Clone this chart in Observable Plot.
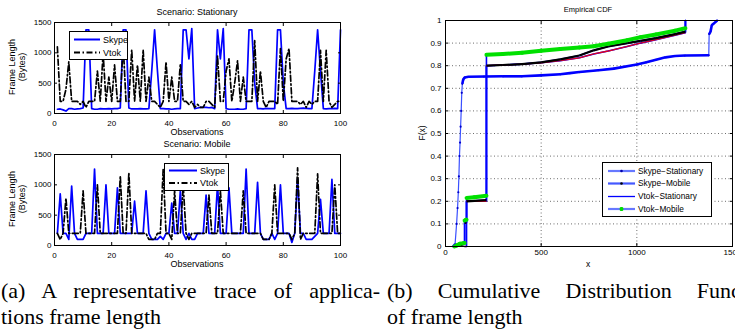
<!DOCTYPE html>
<html><head><meta charset="utf-8">
<script src="https://cdn.jsdelivr.net/npm/d3@7"></script>
<script src="https://cdn.jsdelivr.net/npm/@observablehq/plot@0.6"></script>
<style>
html,body{margin:0;padding:0;background:#fff;overflow:hidden;}
#root{position:relative;width:735px;height:333px;overflow:hidden;font-family:"Liberation Sans",Arial,sans-serif;background:#fff;}
.lbl{position:absolute;white-space:nowrap;color:#000;line-height:1;}
.cap{position:absolute;font-family:"Liberation Serif","Times New Roman",serif;font-size:22px;line-height:26px;color:#000;text-align:justify;text-align-last:justify;white-space:normal;}
.cap.last{text-align:left;text-align-last:left;white-space:nowrap;}
</style></head>
<body><div id="root"></div>
<script>
// ---------- data: frame-length traces (observations 1..100) ----------
const skypeStationary = [70,75,60,40,80,80,70,75,80,90, 1380,1380,80,70,70,80,75,75,80,75,
  80,80,90,1380,1380,90,75,75,75,80, 75,75,80,700,1380,700,80,80,75,75,
  70,75,80,80,1380,1380,900,1400,80,90, 100,100,100,95,100,80,1380,900,1400,80,
  70,70,70,75,70,70,80,1380,1380,500, 80,80,75,85,80,80,80,1380,1380,500,
  80,80,85,80,80,85,90,85,80,80, 700,1380,700,80,75,80,80,85,80,1380];
const vtokStationary = [1100,200,200,400,850,200,200,200,150,200, 100,200,200,200,700,200,1000,200,600,200,
  800,200,200,1150,200,200,1050,200,800,200, 1050,200,600,200,200,150,100,200,850,200,
  600,200,200,820,200,200,150,200,100,150, 100,100,200,200,150,100,950,200,200,700,
  900,200,500,870,200,600,200,200,200,1200, 200,700,200,100,200,200,200,150,1070,200,
  900,1070,200,200,200,150,200,100,200,150, 200,200,1040,200,1040,200,100,150,200,200];
const skypeMobile = [200,850,200,200,100,980,200,100,100,100, 200,200,200,1260,200,200,200,1000,200,200,
  200,950,200,200,200,200,200,730,200,200, 200,900,200,100,100,100,150,100,200,200,
  700,200,200,900,200,100,200,100,100,200, 200,200,830,200,200,200,1000,200,200,200,
  950,200,200,200,200,200,1260,200,200,200, 1040,200,100,100,100,200,100,200,1000,200,
  200,200,50,200,1100,200,200,100,100,100, 150,200,760,200,200,200,1090,200,200,200];
const vtokMobile = [200,100,200,780,200,200,200,200,200,900, 200,200,200,200,1000,200,200,200,200,200,
  200,200,1150,200,200,1200,200,200,200,200, 200,200,100,100,100,200,200,1260,200,200,
  100,900,200,200,1000,200,100,200,200,200, 200,200,200,830,200,200,200,900,200,200,
  200,200,200,200,200,900,200,200,200,200, 200,200,100,100,100,200,1000,200,200,200,
  200,200,100,200,1280,100,200,200,200,200, 200,1180,200,200,200,200,200,1000,200,200];
const traceXTicks = [0,20,40,60,80,100];
const traceYTicks = [0,500,1000,1500];

// ---------- data: empirical CDF knots (x = frame length, F = cumulative) ----------
const ssX = [40,50,58,63,67,70,73,76,79,82,85,88,92,100,120,200,300,400,500,600,650,700,800,880,1000,1050,1100,1150,1200,1250,1376,1378,1385,1392,1400,1420];
const ssF = [0,0.01,0.1,0.17,0.24,0.31,0.4,0.46,0.53,0.6,0.68,0.72,0.738,0.748,0.751,0.752,0.753,0.753,0.757,0.762,0.767,0.772,0.78,0.787,0.805,0.815,0.826,0.837,0.843,0.845,0.846,0.94,0.95,0.98,0.985,1.0];
const smX = [50,95,100,100,108,110,110,214,214,300,400,500,600,700,775,850,950,1019,1100,1200,1254,1254];
const smF = [0,0.01,0.01,0.105,0.105,0.105,0.2,0.205,0.80,0.803,0.807,0.815,0.828,0.845,0.868,0.885,0.9,0.91,0.922,0.94,0.951,1.0];
const vsX = [100,110,110,214,214,300,400,500,600,700,775,850,950,1019,1100,1200,1254,1254];
const vsF = [0,0,0.2,0.2,0.80,0.803,0.807,0.813,0.822,0.835,0.852,0.865,0.885,0.9,0.915,0.935,0.946,1.0];
const vmX = [47,60,75,95,100,100,107,110,110,150,214,214,300,400,500,600,700,775,850,950,1019,1100,1200,1254,1254];
const vmF = [0,0.005,0.012,0.015,0.015,0.115,0.118,0.118,0.215,0.218,0.225,0.848,0.852,0.857,0.866,0.874,0.881,0.886,0.897,0.913,0.926,0.938,0.955,0.966,1.0];
const cdfXTicks = [0,500,1000,1500];
const cdfYTicks = [0,0.1,0.2,0.3,0.4,0.5,0.6,0.7,0.8,0.9,1];

// ---------- helpers ----------
const root = document.getElementById("root");
const FONT = '"Liberation Sans", Arial, Helvetica, sans-serif';
function place(el, left, top) { el.style.position = "absolute"; el.style.left = left + "px"; el.style.top = top + "px"; root.appendChild(el); return el; }
function label(text, cx, cy, size, rotate) {
  const d = document.createElement("div");
  d.className = "lbl"; d.textContent = text; d.style.fontSize = size + "px";
  d.style.left = cx + "px"; d.style.top = cy + "px";
  d.style.transform = "translate(-50%,-50%)" + (rotate ? " rotate(-90deg)" : "");
  root.appendChild(d);
}
const toSeries = arr => arr.map((v, i) => ({obs: i + 1, v}));
const toKnots = (xs, Fs) => xs.map((x, i) => ({x, F: Fs[i]}));
function flatSegs(xs, Fs) {
  const out = [];
  for (let i = 1; i < xs.length; i++) {
    const dx = xs[i] - xs[i - 1];
    if (dx > 0 && (Fs[i] - Fs[i - 1]) / dx < 0.006) out.push({x1: xs[i - 1], y1: Fs[i - 1], x2: xs[i], y2: Fs[i]});
  }
  return out;
}
const inwardAxes = (xt, yt, xPad, yPad, xFmt, yFmt) => [
  Plot.axisX({anchor: "bottom", ticks: xt, tickSize: -3, tickPadding: xPad, label: null, tickFormat: xFmt}),
  Plot.axisX({anchor: "top", ticks: xt, tickSize: -3, tickFormat: () => "", label: null}),
  Plot.axisY({anchor: "left", ticks: yt, tickSize: -3, tickPadding: yPad, label: null, tickFormat: yFmt}),
  Plot.axisY({anchor: "right", ticks: yt, tickSize: -3, tickFormat: () => "", label: null}),
  Plot.frame({stroke: "#000", strokeWidth: 1})
];

// ---------- left: traces ----------
function tracePlot(skype, vtok) {
  return Plot.plot({
    width: 352, height: 140,
    marginLeft: 54, marginRight: 12, marginTop: 22, marginBottom: 27,
    style: {fontFamily: FONT, fontSize: "8px", background: "transparent", overflow: "visible", color: "#000"},
    x: {domain: [0, 100]},
    y: {domain: [0, 1500]},
    marks: [
      Plot.line(toSeries(skype), {x: "obs", y: "v", stroke: "#0000ff", strokeWidth: 1.7}),
      Plot.line(toSeries(vtok), {x: "obs", y: "v", stroke: "#000", strokeWidth: 1.7, strokeDasharray: "6,2.5,1.5,2.5"}),
      ...inwardAxes(traceXTicks, traceYTicks, 10, 6, d => String(d), d => String(d))
    ]
  });
}
place(tracePlot(skypeStationary, vtokStationary), 0, 0);
place(tracePlot(skypeMobile, vtokMobile), 0, 132);

// ---------- right: CDF ----------
const cdf = Plot.plot({
  width: 355, height: 276,
  marginLeft: 65, marginRight: 3, marginTop: 20, marginBottom: 30,
  style: {fontFamily: FONT, fontSize: "8px", background: "transparent", overflow: "visible", color: "#000"},
  x: {domain: [0, 1500]},
  y: {domain: [0, 1]},
  marks: [
    Plot.gridX(cdfXTicks, {stroke: "#333", strokeOpacity: 0.9, strokeDasharray: "1,2.5", strokeWidth: 0.8}),
    Plot.gridY(cdfYTicks, {stroke: "#333", strokeOpacity: 0.9, strokeDasharray: "1,2.5", strokeWidth: 0.8}),
    Plot.line(toKnots(ssX, ssF), {x: "x", y: "F", stroke: "#3a50ff", strokeWidth: 1.2}),
    Plot.dot(toKnots(ssX, ssF), {x: "x", y: "F", r: 1.1, fill: "#0000cc"}),
    Plot.link(flatSegs(ssX, ssF), {x1: "x1", y1: "y1", x2: "x2", y2: "y2", stroke: "#0000ff", strokeWidth: 2.6}),
    Plot.line(toKnots(vsX, vsF), {x: "x", y: "F", stroke: "#0000ff", strokeWidth: 1.6}),
    Plot.line(toKnots(smX, smF), {x: "x", y: "F", stroke: "#0000ff", strokeWidth: 1.6}),
    Plot.line(toKnots(vmX, vmF), {x: "x", y: "F", stroke: "#0000ff", strokeWidth: 1.6}),
    Plot.link(flatSegs(vsX, vsF), {x1: "x1", y1: "y1", x2: "x2", y2: "y2", stroke: "#e00020", strokeWidth: 1.3}),
    Plot.link(flatSegs(smX, smF), {x1: "x1", y1: "y1", x2: "x2", y2: "y2", stroke: "#000", strokeWidth: 2.2}),
    Plot.link(flatSegs(vmX, vmF), {x1: "x1", y1: "y1", x2: "x2", y2: "y2", stroke: "#00e000", strokeWidth: 4, strokeLinecap: "round"}),
    ...inwardAxes(cdfXTicks, cdfYTicks, 6, 7, d => String(d), d => String(d))
  ]
});
place(cdf, 380, 0);

// ---------- text labels ----------
label("Scenario: Stationary", 197, 12, 9);
label("Observations", 197, 132, 9);
label("Frame Length", 12, 67, 9, true);
label("(Bytes)", 21.5, 67, 9, true);
label("Scenario: Mobile", 197, 144, 9);
label("Observations", 197, 264, 9);
label("Frame Length", 12, 199, 9, true);
label("(Bytes)", 21.5, 199, 9, true);
label("Empirical CDF", 588, 10, 7.5);
label("F(x)", 422, 133, 8.5, true);
label("x", 588, 264, 8.5);

// ---------- legends ----------
function legendBox(left, top, w, h, rows) {
  const ns = "http://www.w3.org/2000/svg";
  const svg = document.createElementNS(ns, "svg");
  svg.setAttribute("width", w); svg.setAttribute("height", h);
  let html = `<rect x="0.5" y="0.5" width="${w - 1}" height="${h - 1}" fill="#fff" stroke="#000" stroke-width="1"/>`;
  rows.forEach(r => { html += r; });
  svg.innerHTML = html;
  svg.style.fontFamily = FONT;
  place(svg, left, top);
}
const dashDot = "6,2.5,1.5,2.5";
legendBox(69, 31, 59, 29, [
  `<line x1="5" x2="31" y1="8.5" y2="8.5" stroke="#0000ff" stroke-width="2"/>`,
  `<text x="34" y="8.5" dy="0.35em" font-size="9">Skype</text>`,
  `<line x1="5" x2="31" y1="21.5" y2="21.5" stroke="#000" stroke-width="1.8" stroke-dasharray="${dashDot}"/>`,
  `<text x="34" y="21.5" dy="0.35em" font-size="9">Vtok</text>`
]);
legendBox(164, 163, 65, 28, [
  `<line x1="5" x2="33" y1="7.5" y2="7.5" stroke="#0000ff" stroke-width="2"/>`,
  `<text x="36" y="7.5" dy="0.35em" font-size="9">Skype</text>`,
  `<line x1="5" x2="33" y1="20" y2="20" stroke="#000" stroke-width="1.8" stroke-dasharray="${dashDot}"/>`,
  `<text x="36" y="20" dy="0.35em" font-size="9">Vtok</text>`
]);
legendBox(602, 162, 110, 55, [
  `<line x1="6" x2="33" y1="9" y2="9" stroke="#6678ff" stroke-width="2.2"/><circle cx="19.5" cy="9" r="1.3" fill="#0000aa"/>`,
  `<text x="36" y="9" dy="0.35em" font-size="8.3">Skype\u2212Stationary</text>`,
  `<line x1="6" x2="33" y1="21.5" y2="21.5" stroke="#4458ff" stroke-width="2.2"/><circle cx="19.5" cy="21.5" r="1.3" fill="#000"/>`,
  `<text x="36" y="21.5" dy="0.35em" font-size="8.3">Skype\u2212Mobile</text>`,
  `<line x1="6" x2="33" y1="34.5" y2="34.5" stroke="#0000ff" stroke-width="1.3"/>`,
  `<text x="36" y="34.5" dy="0.35em" font-size="8.3">Vtok\u2212Stationary</text>`,
  `<line x1="6" x2="33" y1="47" y2="47" stroke="#6678ff" stroke-width="2.2"/><path d="M17.5,47h4M19.5,45v4M18,45.5l3,3M21,45.5l-3,3" stroke="#00dd00" stroke-width="1.2"/>`,
  `<text x="36" y="47" dy="0.35em" font-size="8.3">Vtok\u2212Mobile</text>`
]);

// ---------- captions ----------
function cap(text, left, top, width, last) {
  const d = document.createElement("div");
  d.className = "cap" + (last ? " last" : "");
  d.textContent = text;
  d.style.left = left + "px"; d.style.top = top + "px";
  if (width) d.style.width = width + "px";
  root.appendChild(d);
}
cap("(a) A representative trace of applica-", 1, 278, 379, false);
cap("tions frame length", 1, 304, null, true);
cap("(b) Cumulative Distribution Function", 387, 278, 388, false);
cap("of frame length", 387, 304, null, true);
</script>
</body></html>
